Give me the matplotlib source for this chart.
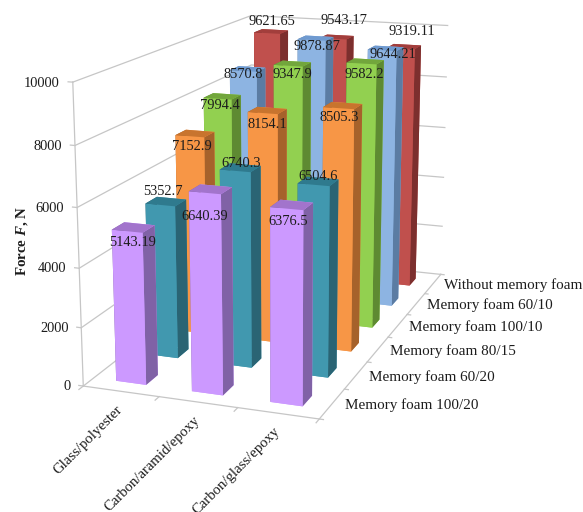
import numpy as np
import matplotlib
matplotlib.use("Agg")
import matplotlib.pyplot as plt
from mpl_toolkits.mplot3d import proj3d

plt.rcParams['font.family'] = ['Liberation Serif', 'DejaVu Serif']
plt.rcParams['mathtext.fontset'] = 'custom'
plt.rcParams['mathtext.it'] = 'Liberation Serif:italic:bold'

composites = ['Glass/polyester', 'Carbon/aramid/epoxy', 'Carbon/glass/epoxy']
foams = ['Memory foam 100/20', 'Memory foam 60/20', 'Memory foam 80/15',
         'Memory foam 100/10', 'Memory foam 60/10', 'Without memory foam']
foam_100_20 = ['5143.19', '6640.39', '6376.5']
foam_60_20 = ['5352.7', '6740.3', '6504.6']
foam_80_15 = ['7152.9', '8154.1', '8505.3']
foam_100_10 = ['7994.4', '9347.9', '9582.2']
foam_60_10 = ['8570.8', '9878.87', '9644.21']
no_foam = ['9621.65', '9543.17', '9319.11']
series = [foam_100_20, foam_60_20, foam_80_15, foam_100_10, foam_60_10, no_foam]
force_ticks = [0, 2000, 4000, 6000, 8000, 10000]

# front, side, top colour of each series
face_colors = [('#CC99FF', '#8062A6', '#A274CC'),
               ('#4198AF', '#2A6474', '#2F7A8E'),
               ('#F79646', '#A6622B', '#C8742E'),
               ('#92D050', '#5E8A32', '#72A63C'),
               ('#8DB4E2', '#5B7CA3', '#6F9AD0'),
               ('#C0504D', '#7C2F2E', '#A23E3C')]
grid_color = '#C6C6C6'
text_color = '#1C1C1C'
# pixel shift of each value label from the top front of its bar
label_shift = [[(5, -11), (0, -24), (1, -13)],
               [(3, 13), (6, 7), (4, 8)],
               [(2, -10), (5, -11), (1, -9)],
               [(2, -7), (4, -9), (3, -11)],
               [(0, -4), (5, -7), (11, -4)],
               [(5, 12), (11, 18), (11, 17)]]

fig = plt.figure(figsize=(5.83, 5.12), dpi=100)
ax = fig.add_axes([-3.3/583, 37.3/512, 553/583, 553/512], projection='3d')
ax.set_proj_type('persp', focal_length=0.5124)
ax.view_init(elev=14.5162, azim=-70.3865)
ax.set_box_aspect((0.8057, 1.5541, 1))
ax.set_axis_off()
ax.computed_zorder = False

n_x = len(composites)
n_y = len(foams)
z_top = force_ticks[-1]


def line(xs, ys, zs):
    ax.plot(xs, ys, zs, color=grid_color, lw=0.9, zorder=1)


def label(x, y, z, text, shift=(0, 0), **kw):
    # 3d text ignores rotation, so labels go on the 2d projection instead
    u, v, _ = proj3d.proj_transform(x, y, z, ax.get_proj())
    ax.annotate(text, xy=(u, v), xytext=shift, textcoords='offset pixels',
                annotation_clip=False, color=text_color, zorder=100, **kw)


# walls and floor
for z in force_ticks:
    line([0, 0, n_x], [0, n_y, n_y], [z, z, z])
    line([-0.06, 0], [0, 0], [z, z])
line([0, 0], [0, 0], [0, z_top])
line([0, n_x, n_x], [0, 0, n_y], [0, 0, 0])
for i in range(n_x + 1):
    line([i, i], [-0.12, 0], [0, 0])
for i in range(n_y + 1):
    line([n_x, n_x + 0.05], [i, i], [0, 0])

# bars from the back row forward, left to right
bar_w = 0.4
bar_d = 0.36
order = 10
for j in range(n_y - 1, -1, -1):
    for i in range(n_x):
        front, side, top = face_colors[j]
        ax.bar3d(i + 0.5 - bar_w / 2, j + 0.3, 0, bar_w, bar_d, float(series[j][i]), shade=False,
                 color=[front, top, front, front, side, side], edgecolor='none', zorder=order)
        order += 1

ax.set_xlim(0, n_x, view_margin=0)
ax.set_ylim(0, n_y, view_margin=0)
ax.set_zlim(0, z_top, view_margin=0)

for z in force_ticks:
    label(-0.17, 0, z, str(z), shift=(0, -2), ha='right', va='center', fontsize=10.4)
for i, name in enumerate(composites):
    label(i + 0.5, 0, 0, name, shift=(-5, -12), ha='right', va='top', rotation=45,
          rotation_mode='anchor', fontsize=10.6)
for i, name in enumerate(foams):
    label(n_x + 0.16, i + 0.5, 0, name, ha='left', va='center', fontsize=10.9)
for j in range(n_y):
    for i in range(n_x):
        label(i + 0.5, j + 0.3, float(series[j][i]), series[j][i], shift=label_shift[j][i],
              ha='center', va='center', fontsize=10.4)

fig.text(22/583, 1 - 241/512, 'Force $F$, N', rotation=90, ha='center', va='center',
         fontsize=10.8, fontweight='bold', color=text_color)
fig.savefig('out.png', dpi=100)
